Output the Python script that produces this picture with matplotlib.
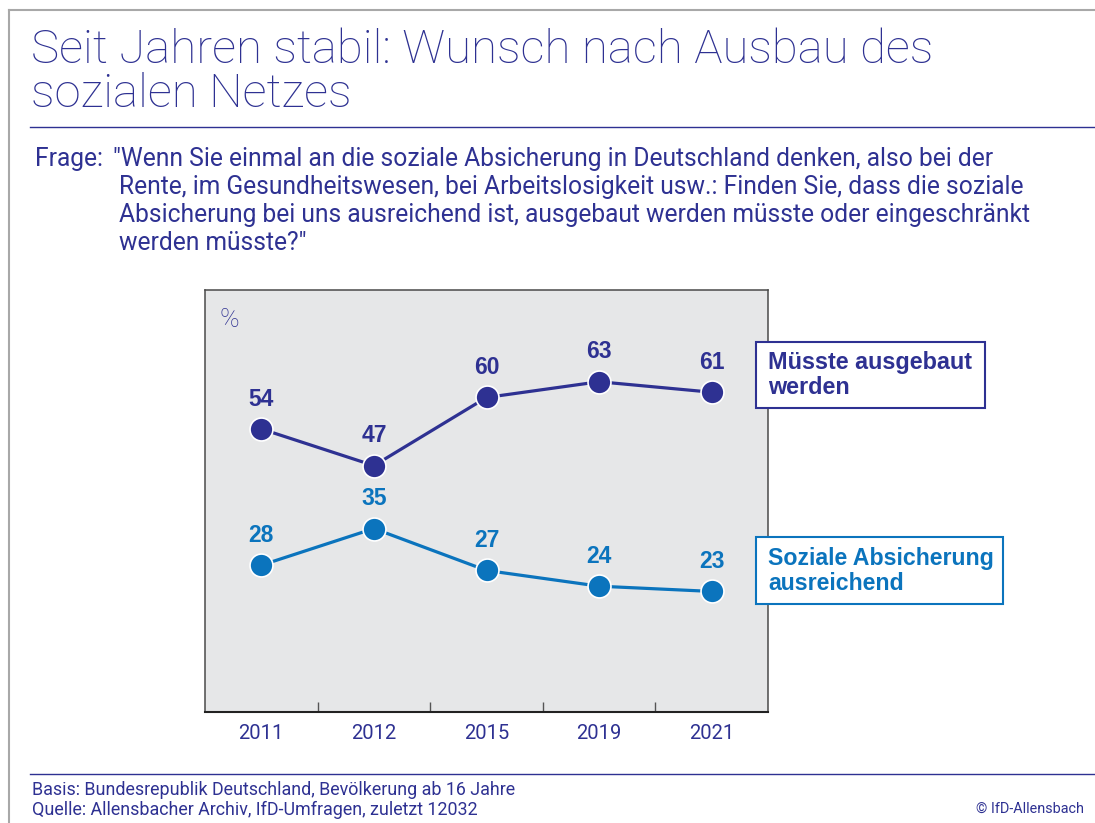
import matplotlib
matplotlib.use('Agg')
import matplotlib.pyplot as plt
from matplotlib.patches import Rectangle
from matplotlib.lines import Line2D
import matplotlib.font_manager as fm

# ---------------- data ----------------
years = ['2011', '2012', '2015', '2019', '2021']
ausgebaut = [54, 47, 60, 63, 61]
ausreichend = [28, 35, 27, 24, 23]
series_ausgebaut = ['Müsste ausgebaut', 'werden']
series_ausreichend = ['Soziale Absicherung', 'ausreichend']

title_lines = ['Seit Jahren stabil: Wunsch nach Ausbau des', 'sozialen Netzes']
frage_label = 'Frage:'
question_lines = [
    '"Wenn Sie einmal an die soziale Absicherung in Deutschland denken, also bei der',
    'Rente, im Gesundheitswesen, bei Arbeitslosigkeit usw.: Finden Sie, dass die soziale',
    'Absicherung bei uns ausreichend ist, ausgebaut werden müsste oder eingeschränkt',
    'werden müsste?"',
]
footer_lines = ['Basis: Bundesrepublik Deutschland, Bevölkerung ab 16 Jahre',
                'Quelle: Allensbacher Archiv, IfD-Umfragen, zuletzt 12032']
copyright_text = '© IfD-Allensbach'
unit_text = '%'

# ---------------- style ----------------
DARK = '#2e3192'
BLUE = '#0b74bd'
GRAY_BG = '#e6e7e8'

available = {f.name for f in fm.fontManager.ttflist}
def pick(*names):
    for n in names:
        if n in available:
            return n
    return 'DejaVu Sans'

THIN = pick('Roboto', 'Lato', 'Liberation Sans')
BOLD = pick('Liberation Sans', 'Roboto')
WT = 'normal'

W, H = 1095, 823
fig = plt.figure(figsize=(W / 100, H / 100), dpi=100)
fig.patch.set_facecolor('white')

def fx(x):
    return x / W

def fy(y):
    return 1 - y / H

renderer = fig.canvas.get_renderer()

def fit(texts, widths):
    """Scale a group of texts so that their median width ratio matches targets."""
    ratios = []
    for t, w in zip(texts, widths):
        bb = t.get_window_extent(renderer)
        ratios.append(w / bb.width)
    r = sorted(ratios)[len(ratios) // 2]
    for t in texts:
        t.set_fontsize(t.get_fontsize() * r)

# ---------------- frame lines ----------------
fig.add_artist(Line2D([fx(9), 1], [fy(10), fy(10)], color='#a8a8a8', lw=1.5))
fig.add_artist(Line2D([fx(9), fx(9)], [fy(10), 0], color='#a8a8a8', lw=1.5))
fig.add_artist(Line2D([fx(30), 1], [fy(127), fy(127)], color=DARK, lw=1.0))
fig.add_artist(Line2D([fx(30), 1], [fy(774), fy(774)], color=DARK, lw=1.0))

# ---------------- title ----------------
t1 = fig.text(fx(31), fy(63), title_lines[0], family=THIN, fontweight='light',
              fontsize=30, color=DARK, va='baseline', ha='left')
t2 = fig.text(fx(31), fy(107), title_lines[1], family=THIN, fontweight='light',
              fontsize=30, color=DARK, va='baseline', ha='left')
fit([t1], [901])
t2.set_fontsize(t1.get_fontsize())

# ---------------- question ----------------
fq = fig.text(fx(35), fy(166), frage_label, family=THIN, fontweight=WT,
              fontsize=14, color=DARK, va='baseline', ha='left')
q_x = [113, 119, 119, 119]
q_y = [166, 194, 222, 250]
q_right = [1004, 1002, 1038, 305]
qts = []
for line, x0, y0 in zip(question_lines, q_x, q_y):
    qts.append(fig.text(fx(x0), fy(y0), line, family=THIN, fontweight=WT,
                        fontsize=14, color=DARK, va='baseline', ha='left'))
fit(qts, [r - x0 for r, x0 in zip(q_right, q_x)])
fq.set_fontsize(qts[0].get_fontsize())

# ---------------- chart ----------------
ax = fig.add_axes([fx(205), fy(712), (768 - 205) / W, (712 - 290) / H])
ax.set_facecolor(GRAY_BG)
xs = list(range(len(years)))

ax.plot(xs, ausgebaut, color=DARK, lw=2.3, marker='o', ms=16.5, mfc=DARK,
        mec='white', mew=1.2, zorder=3, clip_on=False)
ax.plot(xs, ausreichend, color=BLUE, lw=2.3, marker='o', ms=16.5, mfc=BLUE,
        mec='white', mew=1.2, zorder=3, clip_on=False)

for i, v in enumerate(ausgebaut):
    ax.annotate(str(v), (i, v), xytext=(0, 21.5), textcoords='offset points',
                ha='center', va='center', fontsize=16.5, fontweight='bold',
                family=BOLD, color=DARK)
for i, v in enumerate(ausreichend):
    ax.annotate(str(v), (i, v), xytext=(0, 21.5), textcoords='offset points',
                ha='center', va='center', fontsize=16.5, fontweight='bold',
                family=BOLD, color=BLUE)

ax.set_xlim(-0.5, len(years) - 0.5)
ax.set_ylim(0, 80.5)
ax.set_yticks([])
ax.set_xticks(xs)
ax.set_xticklabels(years, family=THIN, fontweight=WT)
ax.set_xticks([i + 0.5 for i in xs[:-1]], minor=True)
ax.tick_params(axis='x', which='major', length=0, pad=8.5, labelsize=14.5,
               labelcolor=DARK)
ax.tick_params(axis='x', which='minor', direction='in', length=7.2, width=1.0,
               color='#555555')
for s in ['left', 'right', 'top']:
    ax.spines[s].set_color('#4a4a4a')
    ax.spines[s].set_linewidth(1.1)
ax.spines['bottom'].set_color('#222222')
ax.spines['bottom'].set_linewidth(1.5)

ax.text(0.025, 0.93, unit_text, transform=ax.transAxes, family=THIN,
        fontweight='light', fontsize=19, color=DARK, ha='left', va='center')

# ---------------- series label boxes ----------------
def label_box(x0, y0, x1, y1, color, lines, baselines, target_w):
    fig.add_artist(Rectangle((fx(x0), fy(y1)), (x1 - x0) / W, (y1 - y0) / H,
                             transform=fig.transFigure, facecolor='white',
                             edgecolor=color, lw=1.5, zorder=5))
    ts = []
    for line, b in zip(lines, baselines):
        ts.append(fig.text(fx(768), fy(b), line, family=BOLD, fontweight='bold',
                           fontsize=16, color=color, va='baseline', ha='left',
                           zorder=6))
    fit([ts[0]], [target_w])
    ts[1].set_fontsize(ts[0].get_fontsize())

label_box(756, 342, 985, 408, DARK, series_ausgebaut, [369, 394], 203)
label_box(756, 537, 1003, 604, BLUE, series_ausreichend, [565, 590], 226)

# ---------------- footer ----------------
f1 = fig.text(fx(32), fy(795), footer_lines[0], family=THIN, fontweight=WT,
              fontsize=10, color=DARK, va='baseline', ha='left')
f2 = fig.text(fx(32), fy(815), footer_lines[1], family=THIN, fontweight=WT,
              fontsize=10, color=DARK, va='baseline', ha='left')
fit([f1, f2], [483, 443])
fc = fig.text(fx(1084), fy(813), copyright_text, family=THIN, fontweight=WT,
              fontsize=10, color=DARK, va='baseline', ha='right')
fit([fc], [108])

fig.savefig('out.png', dpi=100)
